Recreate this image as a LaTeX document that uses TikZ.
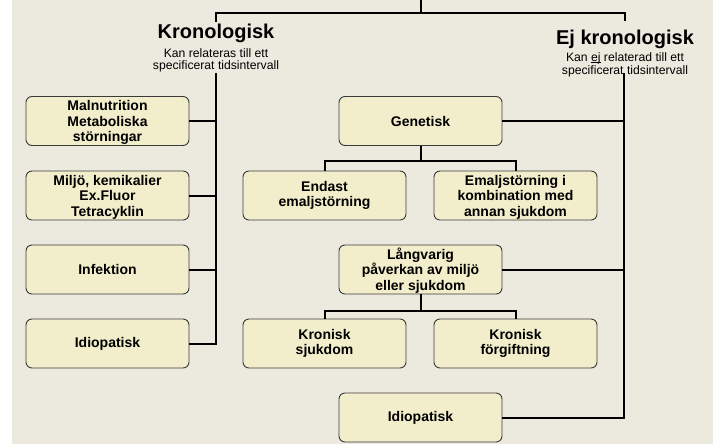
\documentclass[tikz,border=0pt]{standalone}
\usepackage{fontspec}
\setmainfont{Liberation Sans}
\definecolor{bg}{HTML}{ECE9DF}
\definecolor{boxfill}{HTML}{F2EDCB}
\definecolor{boxline}{HTML}{3A3A3A}
% word with a visible underline
\newcommand\ulword[1]{\setbox0=\hbox{#1}\rlap{\rule[-1.6pt]{\wd0}{0.9pt}}#1}
% lift for the first line of three-line labels
\newcommand\firstline{\rule{0pt}{13.5pt}}

\begin{document}
\begin{tikzpicture}[x=1pt,y=-1pt,
  box/.style={draw=boxline, line width=0.9pt, fill=boxfill, rounded corners=6pt,
    minimum width=163pt, minimum height=49pt, align=center, inner sep=0pt,
    font=\fontsize{14}{15.7}\selectfont\bfseries},
  link/.style={draw=black, line width=2pt},
  ttl/.style={anchor=base, inner sep=0pt, font=\fontsize{20}{22}\selectfont\bfseries},
  sub/.style={anchor=base, inner sep=0pt, font=\fontsize{12.2}{13}\selectfont}]

% page and background panel
\useasboundingbox (0,0) rectangle (713,444);
\fill[bg] (12,0) rectangle (713,444);

% headings
\node[ttl] (kron) at (216,38.5) {Kronologisk};
\node[sub] (kronA) at (216,57.3) {Kan relateras till ett};
\node[sub] (kronB) at (216,70) {specificerat tidsintervall};
\node[ttl] (ejkron) at (625,45) {Ej kronologisk};
\node[sub] (ejA) at (625,61.5) {Kan \ulword{ej} relaterad till ett};
\node[sub] (ejB) at (625,74.5) {specificerat tidsintervall};

% left column
\node[box] (maln) at (107.5,121) {\firstline Malnutrition\\Metaboliska\\störningar};
\node[box] (milj) at (107.5,195.5) {\firstline Miljö, kemikalier\\Ex.Fluor\\Tetracyklin};
\node[box] (inf) at (107.5,269.5) {Infektion};
\node[box] (idioL) at (107.5,343.5) {Idiopatisk};

% right column
\node[box] (gen) at (420.5,121) {Genetisk};
\node[box] (endast) at (324.5,195.5) {Endast\\emaljstörning};
\node[box] (emalj) at (515.5,195.5) {\firstline Emaljstörning i\\kombination med\\annan sjukdom};
\node[box] (lang) at (420.5,269.5) {\firstline Långvarig\\påverkan av miljö\\eller sjukdom};
\node[box] (ksj) at (324.5,343.5) {Kronisk\\sjukdom};
\node[box] (kfo) at (515.5,343.5) {Kronisk\\förgiftning};
\node[box] (idioR) at (420.5,417.5) {Idiopatisk};

% connector points
\coordinate (root) at (420.5,0);
\coordinate (rootj) at (420.5,13);
\coordinate (kb) at (216,22);
\coordinate (eb) at (625,21);
\coordinate (kspine) at (216,73);
\coordinate (espine) at (624,73);
\coordinate (gfork) at (420.5,161);
\coordinate (lfork) at (420.5,311);

% top bracket
\draw[link] (root) -- (rootj);
\draw[link] (kb) -- (kb |- rootj) -- (eb |- rootj) -- (eb);

% left spine
\draw[link] (kspine) |- (idioL.east);
\foreach \n in {maln,milj,inf} \draw[link] (\n.east) -- (\n.east -| kspine);

% right spine
\draw[link] (espine) |- (idioR.east);
\foreach \n in {gen,lang} \draw[link] (\n.east) -- (\n.east -| espine);

% forks
\draw[link] (gen.south) -- (gfork);
\draw[link] (endast.north) |- (gfork) -| (emalj.north);
\draw[link] (lang.south) -- (lfork);
\draw[link] (ksj.north) |- (lfork) -| (kfo.north);
\end{tikzpicture}
\end{document}
